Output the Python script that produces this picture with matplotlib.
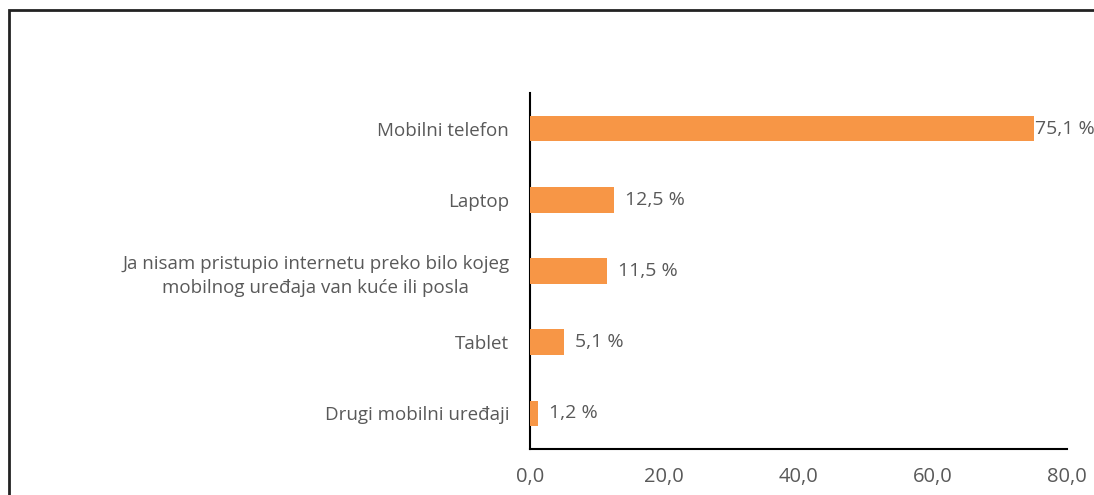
import matplotlib
matplotlib.use("Agg")
import matplotlib.pyplot as plt
from matplotlib.patches import Rectangle

categories = [
    "Mobilni telefon",
    "Laptop",
    "Ja nisam pristupio internetu preko bilo kojeg\nmobilnog uređaja van kuće ili posla",
    "Tablet",
    "Drugi mobilni uređaji",
]
values = [75.1, 12.5, 11.5, 5.1, 1.2]
xticks = [0, 20, 40, 60, 80]

ORANGE = "#F79646"
GREY = "#595959"

plt.rcParams["font.family"] = ["Open Sans", "DejaVu Sans"]

fig = plt.figure(figsize=(10.94, 4.95), dpi=100)
ax = fig.add_axes([530 / 1094, 1 - 449 / 495, (1067 - 530) / 1094, (449 - 93) / 495])

ypos = list(range(len(categories)))[::-1]
ax.barh(ypos, values, height=0.36, color=ORANGE, zorder=3)

for y, v in zip(ypos, values):
    off = 1 if v > 70 else 8
    ax.annotate(f"{v:.1f} %".replace(".", ","), (v, y), xytext=(off, 0),
                textcoords="offset points", va="center", ha="left",
                fontsize=14, color=GREY, annotation_clip=False)

ax.set_xlim(0, 80)
ax.set_ylim(-0.5, len(categories) - 0.5)
ax.set_xticks(xticks)
ax.set_xticklabels([f"{t:.1f}".replace(".", ",") for t in xticks], fontsize=14.5)
ax.set_yticks(ypos)
ax.set_yticklabels(categories, fontsize=13.5, multialignment="center", linespacing=1.45)
ax.tick_params(axis="both", length=0, labelcolor=GREY)
ax.tick_params(axis="x", pad=13)
ax.tick_params(axis="y", pad=15)

for s in ["top", "right"]:
    ax.spines[s].set_visible(False)
for s in ["left", "bottom"]:
    ax.spines[s].set_linewidth(1.5)
    ax.spines[s].set_color("black")

# outer chart frame, cut off at right and bottom like the source
fig.patches.append(Rectangle((8.5 / 1094, -0.1), 1.2, 1 - 9.5 / 495 + 0.1,
                             transform=fig.transFigure, fill=False,
                             ec="#222222", lw=2, zorder=10))

fig.savefig("out.png", dpi=100)
